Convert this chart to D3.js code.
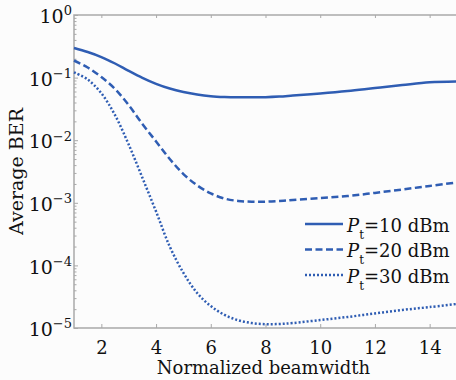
<!DOCTYPE html>
<html>
<head>
<meta charset="utf-8">
<script src="https://cdn.jsdelivr.net/npm/d3@7"></script>
<style>
  body { margin: 0; background: #fcfcfc; }
  text { font-family: "DejaVu Serif", serif; fill: #111; }
</style>
</head>
<body>
<div id="chart"></div>
<script>
// datos
var beamwidth = [1, 1.5, 2, 2.5, 3, 3.5, 4, 4.5, 5, 5.5, 6, 6.5, 7, 7.5, 8, 8.5, 9, 10, 11, 12, 13, 14, 15];
var ber10 = [0.297, 0.256, 0.213, 0.168, 0.128, 0.099, 0.0794, 0.0668, 0.0589, 0.0537, 0.0505, 0.049, 0.0484, 0.0484, 0.0486, 0.0497, 0.0516, 0.0557, 0.061, 0.0682, 0.076, 0.084, 0.0866];
var ber20 = [0.1876, 0.145, 0.102, 0.0658, 0.0363, 0.0182, 0.00955, 0.00501, 0.00288, 0.0019, 0.00141, 0.00117, 0.00107, 0.00104, 0.00104, 0.00107, 0.00111, 0.00119, 0.00128, 0.00144, 0.00163, 0.00186, 0.00211];
var ber30 = [0.1216, 0.0933, 0.0562, 0.0251, 0.00851, 0.00251, 0.000724, 0.0002, 0.0000759, 0.0000363, 0.0000224, 0.0000162, 0.0000133, 0.000012, 0.0000115, 0.0000116, 0.000012, 0.0000134, 0.000015, 0.0000171, 0.0000194, 0.0000216, 0.0000242];
var powers = ["10", "20", "30"];
var xTicks = [2, 4, 6, 8, 10, 12, 14];
var yTicks = [1e-5, 1e-4, 1e-3, 1e-2, 1e-1, 1];

var width = 456, height = 380;
var margin = {top: 15, right: -1, bottom: 52, left: 74};
var blue = "#2f5db3";
var frame = "#a9a9a9";

var svg = d3.select("#chart").append("svg")
    .attr("width", width)
    .attr("height", height);

var x = d3.scaleLinear().domain([1, 15]).range([margin.left, width - margin.right]);
var y = d3.scaleLog().domain([1e-5, 1]).range([height - margin.bottom, margin.top]);

// marco
svg.append("rect")
    .attr("x", x(1)).attr("y", y(1))
    .attr("width", x(15) - x(1)).attr("height", y(1e-5) - y(1))
    .attr("fill", "none").attr("stroke", frame).attr("stroke-width", 1.5);

// ticks menores del eje y
var minor = [];
yTicks.slice(0, -1).forEach(function(d) {
  for (var k = 2; k <= 9; k++) minor.push(d * k);
});

svg.append("g")
    .attr("transform", "translate(" + x(1) + ",0)")
    .call(d3.axisLeft(y).tickValues(minor).tickSize(-2.5).tickFormat(""))
    .call(function(g) { g.select(".domain").remove(); })
    .selectAll("line").attr("stroke", frame);

// eje y principal
var yAxis = svg.append("g")
    .attr("transform", "translate(" + x(1) + ",0)")
    .call(d3.axisLeft(y).tickValues(yTicks).tickSize(-4).tickPadding(4)
      .tickFormat(function() { return ""; }));
yAxis.select(".domain").remove();
yAxis.selectAll("line").attr("stroke", frame);
yAxis.selectAll("text")
    .style("font-size", "19px")
    .attr("x", -2).attr("dy", "0.4em")
    .each(function(d) {
      var e = Math.round(Math.log10(d));
      var t = d3.select(this);
      t.append("tspan").text("10");
      t.append("tspan").attr("dy", "-0.6em").style("font-size", "13px")
        .text(e === 0 ? "0" : "\u2212" + Math.abs(e));
    });

// eje x
var xAxis = svg.append("g")
    .attr("transform", "translate(0," + y(1e-5) + ")")
    .call(d3.axisBottom(x).tickValues(xTicks).tickSize(-4).tickPadding(13));
xAxis.select(".domain").remove();
xAxis.selectAll("line").attr("stroke", frame);
xAxis.selectAll("text").style("font-size", "18px").style("fill", "#111");

// ticks superiores
svg.append("g")
    .attr("transform", "translate(0," + y(1) + ")")
    .call(d3.axisTop(x).tickValues(xTicks).tickSize(-3).tickFormat(""))
    .call(function(g) { g.select(".domain").remove(); })
    .selectAll("line").attr("stroke", frame);

// lineas
var series = [
  {label: powers[0], values: ber10, dash: null, w: 2.5},
  {label: powers[1], values: ber20, dash: "7,3.5", w: 2.5},
  {label: powers[2], values: ber30, dash: "2,2", w: 2.5}
];

var valueline = d3.line()
    .x(function(d) { return x(d[0]); })
    .y(function(d) { return y(d[1]); })
    .curve(d3.curveCatmullRom.alpha(0.5));

series.forEach(function(s) {
  svg.append("path")
      .datum(beamwidth.map(function(b, i) { return [b, s.values[i]]; }))
      .attr("fill", "none")
      .attr("stroke", blue)
      .attr("stroke-width", s.w)
      .attr("stroke-dasharray", s.dash)
      .attr("d", valueline);
});

// leyenda
var legend = svg.append("g").attr("transform", "translate(305,224)");
series.forEach(function(s, i) {
  var row = legend.append("g").attr("transform", "translate(0," + (i * 25.5) + ")");
  row.append("line")
      .attr("x1", 0).attr("x2", 38)
      .attr("stroke", blue).attr("stroke-width", s.w)
      .attr("stroke-dasharray", s.dash);
  var t = row.append("text").attr("x", 42).attr("y", 7.5).style("font-size", "18px");
  t.append("tspan").style("font-style", "italic").text("P");
  t.append("tspan").attr("dy", 7).style("font-size", "12px").text("t");
  t.append("tspan").attr("dy", -7).text("=" + s.label + " dBm");
});

// titulos de ejes
svg.append("text")
    .attr("x", (x(1) + x(15)) / 2 - 2)
    .attr("y", 374)
    .attr("text-anchor", "middle")
    .style("font-size", "18px")
    .text("Normalized beamwidth");

svg.append("text")
    .attr("transform", "translate(23," + ((y(1) + y(1e-5)) / 2) + ") rotate(-90)")
    .attr("text-anchor", "middle")
    .style("font-size", "19px")
    .text("Average BER");
</script>
</body>
</html>
